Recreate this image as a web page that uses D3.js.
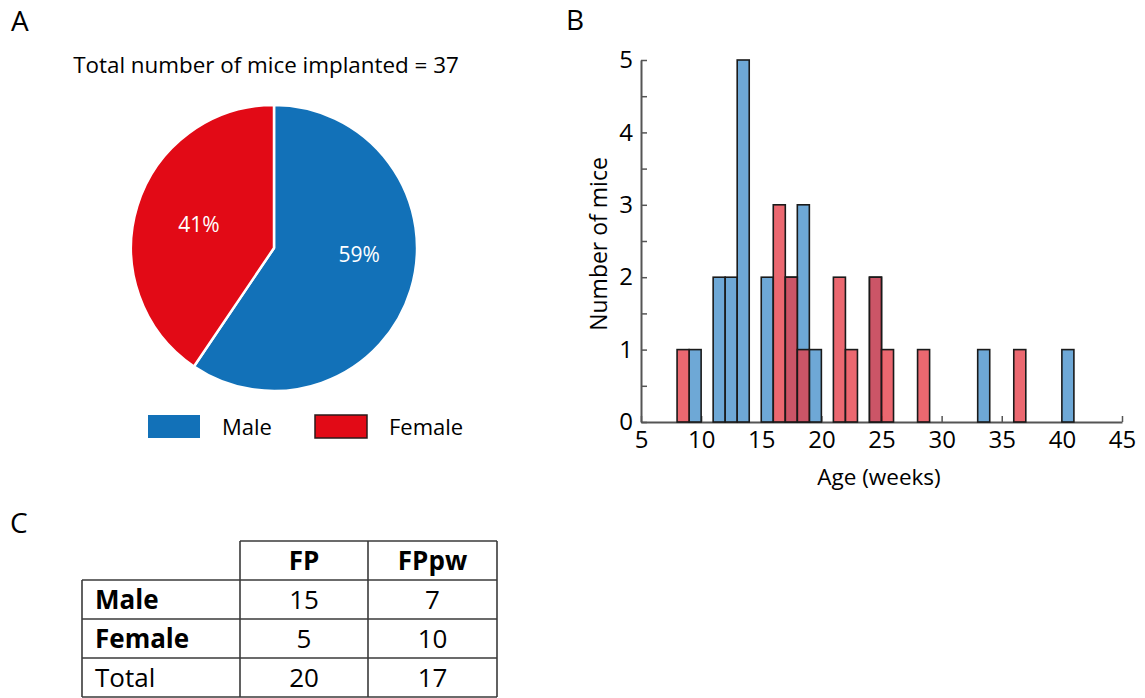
<!DOCTYPE html>
<html>
<head>
<meta charset="utf-8">
<script src="https://cdn.jsdelivr.net/npm/d3@7"></script>
<style>
  html, body { margin: 0; padding: 0; background: #fff; }
  svg text { font-family: 'Open Sans', sans-serif; }
</style>
</head>
<body>
<svg id="fig" width="1145" height="698"></svg>
<script>
// ---- Data ----
// Panel A: implanted mice by sex
const sexes = ["Male", "Female"];
const sexCounts = [22, 15];

// Panel B: age histogram, 1-week bins starting at each week
const weeks = [8,9,10,11,12,13,14,15,16,17,18,19,20,21,22,23,24,25,26,27,28,29,30,31,32,33,34,35,36,37,38,39,40];
const maleCounts   = [0,1,0,2,2,5,0,2,0,2,3,1,0,0,0,0,2,0,0,0,0,0,0,0,0,1,0,0,0,0,0,0,1];
const femaleCounts = [1,0,0,0,0,0,0,0,3,2,1,0,0,2,1,0,2,1,0,0,1,0,0,0,0,0,0,0,1,0,0,0,0];
const xTicks = [5,10,15,20,25,30,35,40,45];
const yTicks = [0,1,2,3,4,5];

// Panel C: group counts
const tableCols = ["FP", "FPpw"];
const tableRows = ["Male", "Female", "Total"];
const fpCounts = [15, 5, 20];
const fppwCounts = [7, 10, 17];

// ---- Drawing ----
const svg = d3.select("#fig");
const sexColors = { Male: "#1271b8", Female: "#e20a16" };

// panel letters
[["A", 11, 31], ["B", 566, 30], ["C", 10, 533]].forEach(([t, x, y]) => {
  svg.append("text").attr("x", x).attr("y", y).attr("font-size", 28).attr("fill", "#000").text(t);
});

// ---------- Panel A: pie ----------
const total = d3.sum(sexCounts);
svg.append("text").attr("x", 266).attr("y", 73).attr("text-anchor", "middle")
  .attr("font-size", 22.4).text(`Total number of mice implanted = ${total}`);

const pieData = sexes.map((s, i) => ({ sex: s, value: sexCounts[i] }));
const pie = d3.pie().sort(null).value(d => d.value);
const R = 143;
const arc = d3.arc().innerRadius(0).outerRadius(R);
const labelArc = d3.arc().innerRadius(0).outerRadius(R * 1.1);
const gPie = svg.append("g").attr("transform", "translate(274,248)");
const arcs = pie(pieData);
gPie.selectAll("path").data(arcs).join("path")
  .attr("d", arc)
  .attr("fill", d => sexColors[d.data.sex])
  .attr("stroke", "#fff").attr("stroke-width", 2.5).attr("stroke-linejoin", "round");
const nudge = { Male: [10, -16], Female: [0, 0] };
gPie.selectAll("text.pct").data(arcs).join("text").attr("class", "pct")
  .attr("x", d => labelArc.centroid(d)[0] + nudge[d.data.sex][0])
  .attr("y", d => labelArc.centroid(d)[1] + nudge[d.data.sex][1])
  .attr("dy", "0.35em").attr("text-anchor", "middle")
  .attr("fill", "#fff").attr("font-size", 21)
  .text(d => `${Math.round(100 * d.data.value / total)}%`);

// legend
const legendX = [148, 315];
sexes.forEach((s, i) => {
  svg.append("rect").attr("x", legendX[i]).attr("y", 415).attr("width", 52).attr("height", 23)
    .attr("fill", sexColors[s])
    .attr("stroke", s === "Female" ? "#2a1a1a" : "none").attr("stroke-width", 1.5);
  svg.append("text").attr("x", legendX[i] + 74).attr("y", 435).attr("font-size", 22).text(s);
});

// ---------- Panel B: histogram ----------
const x = d3.scaleLinear().domain([5, 45]).range([641, 1122]);
const y = d3.scaleLinear().domain([0, 5]).range([422, 60]);
const axisColor = "#555";

const gx = svg.append("g").attr("transform", `translate(0,${y(0)})`)
  .call(d3.axisBottom(x).tickValues(xTicks).tickSizeInner(-6).tickSizeOuter(0).tickPadding(9));
const gy = svg.append("g").attr("transform", `translate(${x(5)},0)`)
  .call(d3.axisLeft(y).tickValues(d3.range(0, 5.01, 0.5)).tickSizeInner(-6).tickSizeOuter(0).tickPadding(8)
    .tickFormat(d => Number.isInteger(d) ? d : ""));
[gx, gy].forEach(g => {
  g.select(".domain").attr("stroke", axisColor).attr("stroke-width", 2);
  g.selectAll(".tick line").attr("stroke", axisColor).attr("stroke-width", 1.5);
  g.selectAll(".tick text").attr("font-size", 24).attr("fill", "#000")
    .attr("font-family", "'Open Sans', sans-serif");
});
gx.selectAll(".tick text").attr("y", 9).attr("dy", "0.71em");

const barW = x(weeks[0] + 1) - x(weeks[0]);
svg.append("g").selectAll("rect").data(weeks.map((w, i) => ({ w, c: maleCounts[i] }))).join("rect")
  .attr("x", d => x(d.w)).attr("width", barW)
  .attr("y", d => y(d.c)).attr("height", d => y(0) - y(d.c))
  .attr("fill", "#6ea8d6").attr("stroke", "#1a1a1a").attr("stroke-width", 1.6);
svg.append("g").selectAll("rect").data(weeks.map((w, i) => ({ w, c: femaleCounts[i] }))).join("rect")
  .attr("x", d => x(d.w)).attr("width", barW)
  .attr("y", d => y(d.c)).attr("height", d => y(0) - y(d.c))
  .attr("fill", "rgb(230,62,72)").attr("fill-opacity", 0.78)
  .attr("stroke", "#1a1a1a").attr("stroke-width", 1.6);

svg.append("text").attr("x", 879).attr("y", 485).attr("text-anchor", "middle")
  .attr("font-size", 22.5).text("Age (weeks)");
svg.append("text").attr("transform", "translate(607,244) rotate(-90)").attr("text-anchor", "middle")
  .attr("font-size", 23).text("Number of mice");

// ---------- Panel C: table ----------
const colX = [82, 240, 368, 497];
const rowY = [541, 580, 619, 658, 697];
const gT = svg.append("g");
const lineStyle = sel => sel.attr("stroke", "#3a3a3a").attr("stroke-width", 1.6);
// header row (only over the count columns)
gT.append("line").attr("x1", colX[1]).attr("x2", colX[3]).attr("y1", rowY[0]).attr("y2", rowY[0]).call(lineStyle);
rowY.slice(1).forEach(yy => gT.append("line").attr("x1", colX[0]).attr("x2", colX[3]).attr("y1", yy).attr("y2", yy).call(lineStyle));
gT.append("line").attr("x1", colX[0]).attr("x2", colX[0]).attr("y1", rowY[1]).attr("y2", rowY[4]).call(lineStyle);
colX.slice(1).forEach(xx => gT.append("line").attr("x1", xx).attr("x2", xx).attr("y1", rowY[0]).attr("y2", rowY[4]).call(lineStyle));

tableCols.forEach((c, j) => {
  gT.append("text").attr("x", (colX[j + 1] + colX[j + 2]) / 2).attr("y", (rowY[0] + rowY[1]) / 2)
    .attr("dy", "0.36em").attr("text-anchor", "middle").attr("font-size", 26).attr("font-weight", 700).text(c);
});
const cols = [fpCounts, fppwCounts];
tableRows.forEach((r, i) => {
  const cy = (rowY[i + 1] + rowY[i + 2]) / 2;
  gT.append("text").attr("x", 95).attr("y", cy).attr("dy", "0.36em").attr("font-size", 26)
    .attr("font-weight", r === "Total" ? 400 : 700).text(r);
  cols.forEach((vals, j) => {
    gT.append("text").attr("x", (colX[j + 1] + colX[j + 2]) / 2).attr("y", cy).attr("dy", "0.36em")
      .attr("text-anchor", "middle").attr("font-size", 26).text(vals[i]);
  });
});
</script>
</body>
</html>
